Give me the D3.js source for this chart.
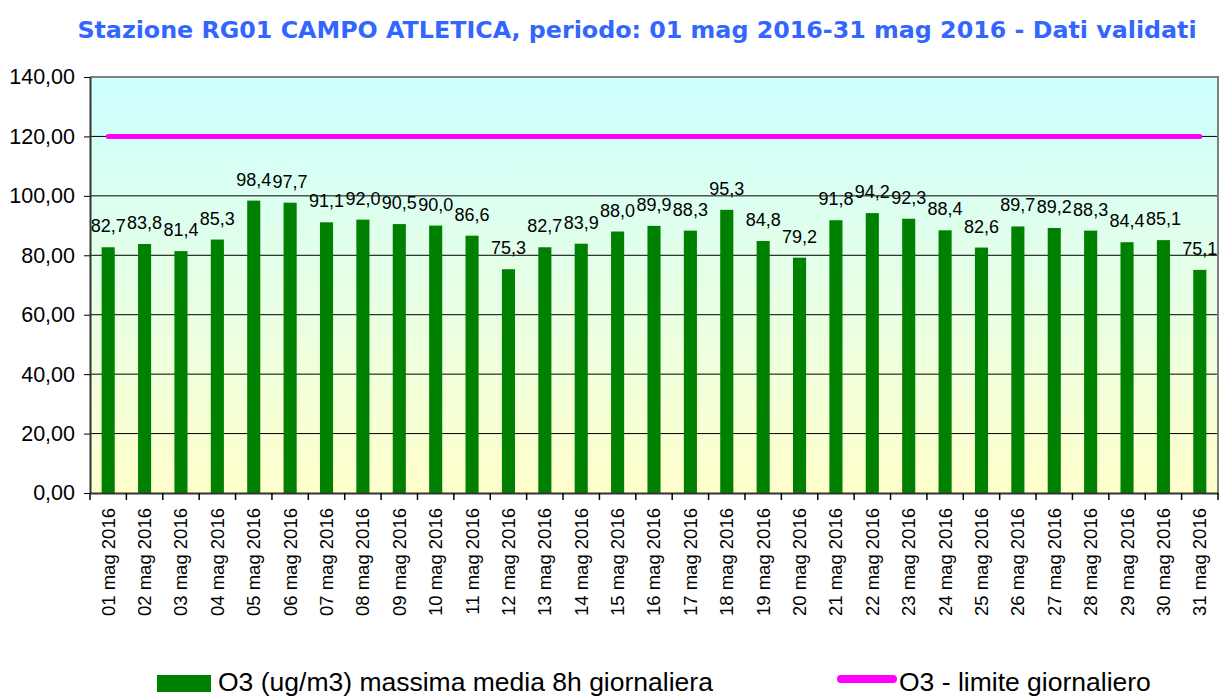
<!DOCTYPE html>
<html>
<head>
<meta charset="utf-8">
<script src="https://cdn.jsdelivr.net/npm/d3@7"></script>
<style>
  body { margin: 0; background: #fff; }
  svg { display: block; }
  text { font-family: "Liberation Sans", Arial, sans-serif; fill: #000; }
</style>
</head>
<body>
<div id="chart"></div>
<script>
// daily values, May 2016
var days = ["01 mag 2016","02 mag 2016","03 mag 2016","04 mag 2016","05 mag 2016","06 mag 2016",
            "07 mag 2016","08 mag 2016","09 mag 2016","10 mag 2016","11 mag 2016","12 mag 2016",
            "13 mag 2016","14 mag 2016","15 mag 2016","16 mag 2016","17 mag 2016","18 mag 2016",
            "19 mag 2016","20 mag 2016","21 mag 2016","22 mag 2016","23 mag 2016","24 mag 2016",
            "25 mag 2016","26 mag 2016","27 mag 2016","28 mag 2016","29 mag 2016","30 mag 2016",
            "31 mag 2016"];
var o3Values = [82.7, 83.8, 81.4, 85.3, 98.4, 97.7, 91.1, 92.0, 90.5, 90.0, 86.6, 75.3,
                82.7, 83.9, 88.0, 89.9, 88.3, 95.3, 84.8, 79.2, 91.8, 94.2, 92.3, 88.4,
                82.6, 89.7, 89.2, 88.3, 84.4, 85.1, 75.1];
var limitValues = days.map(function() { return 120; });
var yTicks = [0, 20, 40, 60, 80, 100, 120, 140];

var titleText = "Stazione RG01 CAMPO ATLETICA, periodo: 01 mag 2016-31 mag 2016 - Dati validati";
var legendText = ["O3 (ug/m3) massima media 8h giornaliera", "O3 - limite giornaliero"];

var width = 1221, height = 696;
var margin = {left: 90, right: 3, top: 77, bottom: 203};

// italian number format: 140,00
var it = d3.formatLocale({decimal: ",", thousands: ".", grouping: [3], currency: ["€", ""]});
var fmtAxis = it.format(".2f");
var fmtVal = it.format(".1f");

var svg = d3.select("#chart").append("svg")
    .attr("width", width)
    .attr("height", height);

var x = d3.scaleBand()
    .domain(days)
    .range([margin.left, width - margin.right]);

var y = d3.scaleLinear()
    .domain([0, 140])
    .range([height - margin.bottom, margin.top]);

// background gradient of the plot area
var grad = svg.append("defs").append("linearGradient")
    .attr("id", "bg")
    .attr("x1", 0).attr("y1", 0).attr("x2", 0).attr("y2", 1);
grad.append("stop").attr("offset", "0%").attr("stop-color", "#ccffff");
grad.append("stop").attr("offset", "100%").attr("stop-color", "#ffffcc");

svg.append("rect")
    .attr("x", margin.left)
    .attr("y", margin.top)
    .attr("width", width - margin.right - margin.left)
    .attr("height", y(0) - margin.top)
    .style("fill", "url(#bg)");

// gridlines
svg.append("g")
    .selectAll("line")
    .data(yTicks.filter(function(d) { return d > 0 && d < 140; }))
    .enter()
    .append("line")
    .attr("x1", margin.left)
    .attr("x2", width - margin.right)
    .attr("y1", function(d) { return y(d); })
    .attr("y2", function(d) { return y(d); })
    .style("stroke", "#000")
    .style("stroke-width", 1);

// gray frame top / right
svg.append("path")
    .attr("d", "M" + margin.left + "," + y(140) + "H" + (width - margin.right) + "V" + y(0))
    .style("fill", "none")
    .style("stroke", "#808080")
    .style("stroke-width", 2);

// bars
var barW = x.bandwidth() * 0.36;
svg.append("g")
    .selectAll("rect")
    .data(o3Values)
    .enter()
    .append("rect")
    .attr("x", function(d, i) { return x(days[i]) + (x.bandwidth() - barW) / 2; })
    .attr("y", function(d) { return y(d); })
    .attr("width", barW)
    .attr("height", function(d) { return y(0) - y(d); })
    .style("fill", "#008000");

// value labels
svg.append("g")
    .selectAll("text")
    .data(o3Values)
    .enter()
    .append("text")
    .attr("x", function(d, i) { return x(days[i]) + x.bandwidth() / 2; })
    .attr("y", function(d) { return y(d) - 15; })
    .attr("text-anchor", "middle")
    .style("font-size", "18px")
    .text(function(d) { return fmtVal(d); });

// limit line
var line = d3.line()
    .x(function(d, i) { return x(days[i]) + x.bandwidth() / 2; })
    .y(function(d) { return y(d); });

svg.append("path")
    .datum(limitValues)
    .attr("d", line)
    .style("fill", "none")
    .style("stroke", "#ff00ff")
    .style("stroke-width", 5)
    .style("stroke-linecap", "round");

// y axis
var yAxis = svg.append("g")
    .attr("transform", "translate(" + margin.left + ",0)")
    .call(d3.axisLeft(y).tickValues(yTicks).tickFormat(fmtAxis).tickSize(6).tickSizeOuter(0));
yAxis.select(".domain").style("stroke", "#333").style("stroke-width", 2);
yAxis.selectAll(".tick line").style("stroke", "#000");
yAxis.selectAll(".tick text")
    .attr("x", -15)
    .style("font-size", "21.5px")
    .style("font-family", "'Liberation Sans', Arial, sans-serif")
    .style("fill", "#000");

// x axis
var xAxis = svg.append("g")
    .attr("transform", "translate(0," + y(0) + ")")
    .call(d3.axisBottom(x).tickSize(0).tickSizeOuter(0));
xAxis.select(".domain").style("stroke", "#333").style("stroke-width", 2);
xAxis.selectAll(".tick text")
    .attr("transform", "rotate(-90)")
    .attr("x", -15)
    .attr("y", 0)
    .attr("dy", "0.35em")
    .attr("text-anchor", "end")
    .style("font-size", "18.5px")
    .style("font-family", "'Liberation Sans', Arial, sans-serif")
    .style("fill", "#000");

// ticks between categories
xAxis.append("g")
    .selectAll("line")
    .data(days.concat(["end"]))
    .enter()
    .append("line")
    .attr("x1", function(d, i) { return margin.left + i * x.step(); })
    .attr("x2", function(d, i) { return margin.left + i * x.step(); })
    .attr("y1", 0)
    .attr("y2", 7)
    .style("stroke", "#000")
    .style("stroke-width", 1.5);

// title
var title = svg.append("text")
    .attr("x", 637)
    .attr("y", 38)
    .attr("text-anchor", "middle")
    .style("font-family", "'DejaVu Sans', Verdana, sans-serif")
    .style("font-weight", "bold")
    .style("font-size", "22px")
    .style("fill", "#3366ff")
    .text(titleText);
var tw = title.node().getComputedTextLength();
title.style("font-size", (22 * 1120 / tw) + "px");

// legend
var legend = svg.append("g");
legend.append("rect")
    .attr("x", 157)
    .attr("y", 675)
    .attr("width", 54)
    .attr("height", 17)
    .style("fill", "#008000");
legend.append("text")
    .attr("x", 218)
    .attr("y", 691)
    .style("font-size", "26.5px")
    .text(legendText[0]);
legend.append("line")
    .attr("x1", 841).attr("x2", 893)
    .attr("y1", 679).attr("y2", 679)
    .style("stroke", "#ff00ff")
    .style("stroke-width", 8)
    .style("stroke-linecap", "round");
legend.append("text")
    .attr("x", 899)
    .attr("y", 691)
    .style("font-size", "26.5px")
    .text(legendText[1]);
</script>
</body>
</html>
